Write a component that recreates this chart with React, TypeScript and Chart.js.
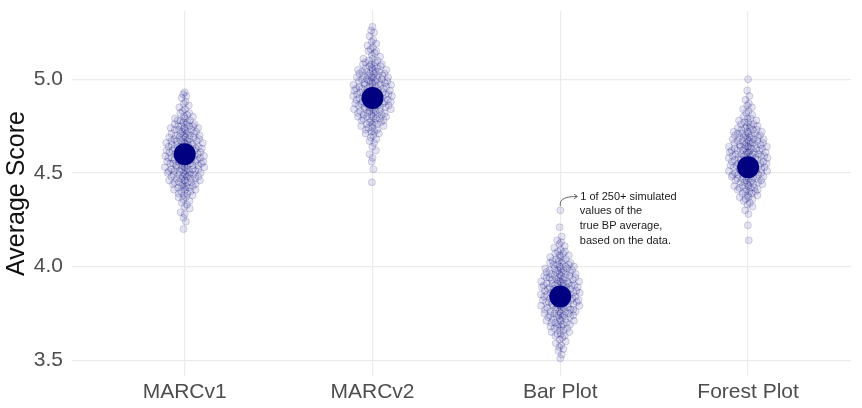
import React, { useEffect, useRef } from "react";
import { Chart, registerables } from "chart.js";

Chart.register(...registerables);

const categories = ["MARCv1", "MARCv2", "Bar Plot", "Forest Plot"];
const yTicks = [3.5, 4.0, 4.5, 5.0];

const marcv1 = [
  4.93, 4.92, 4.91, 4.90, 4.88, 4.87, 4.86, 4.85, 4.84, 4.83, 4.82, 4.82, 4.81, 4.80, 4.80,
  4.79, 4.79, 4.78, 4.78, 4.78, 4.77, 4.77, 4.76, 4.76, 4.76,
  4.75, 4.75, 4.75, 4.75, 4.74, 4.74, 4.74, 4.73, 4.73, 4.73, 4.73, 4.72, 4.72, 4.72,
  4.71, 4.71, 4.71, 4.71, 4.70, 4.70, 4.70, 4.70, 4.69, 4.69, 4.69, 4.69, 4.68, 4.68, 4.68, 4.68,
  4.67, 4.67, 4.67, 4.67, 4.67, 4.66, 4.66, 4.66, 4.66, 4.66, 4.65, 4.65, 4.65, 4.65,
  4.64, 4.64, 4.64, 4.64, 4.64,
  4.63, 4.63, 4.63, 4.63, 4.63, 4.62, 4.62, 4.62, 4.62, 4.62, 4.61, 4.61, 4.61, 4.61, 4.61,
  4.60, 4.60, 4.60, 4.60, 4.60,
  4.59, 4.59, 4.59, 4.59, 4.59, 4.58, 4.58, 4.58, 4.58, 4.58, 4.58, 4.57, 4.57, 4.57, 4.57, 4.57,
  4.56, 4.56, 4.56, 4.56, 4.56,
  4.55, 4.55, 4.55, 4.55, 4.55, 4.54, 4.54, 4.54, 4.54, 4.54, 4.53, 4.53, 4.53, 4.53, 4.53,
  4.52, 4.52, 4.52, 4.52, 4.52,
  4.51, 4.51, 4.51, 4.51, 4.51, 4.50, 4.50, 4.50, 4.50, 4.49, 4.49, 4.49, 4.49, 4.49,
  4.48, 4.48, 4.48, 4.48,
  4.47, 4.47, 4.47, 4.47, 4.46, 4.46, 4.46, 4.46, 4.45, 4.45, 4.45, 4.45, 4.44, 4.44, 4.44,
  4.43, 4.43, 4.43, 4.42, 4.42, 4.42, 4.41, 4.41, 4.41, 4.40, 4.40,
  4.39, 4.39, 4.38, 4.38, 4.37, 4.37, 4.36, 4.35, 4.34, 4.33, 4.32, 4.31, 4.29, 4.28, 4.26,
  4.24, 4.20,
];

const marcv2 = [
  5.28, 5.26, 5.25, 5.23, 5.21, 5.20, 5.19, 5.18, 5.17, 5.16, 5.15, 5.15, 5.14, 5.13, 5.12,
  5.11, 5.11, 5.10, 5.10, 5.09, 5.09, 5.08, 5.08, 5.08,
  5.07, 5.07, 5.07, 5.06, 5.06, 5.06, 5.05, 5.05, 5.05, 5.04, 5.04, 5.04, 5.04,
  5.03, 5.03, 5.03, 5.03, 5.02, 5.02, 5.02, 5.02, 5.01, 5.01, 5.01, 5.01, 5.00, 5.00, 5.00, 5.00,
  4.99, 4.99, 4.99, 4.99, 4.99, 4.98, 4.98, 4.98, 4.98, 4.97, 4.97, 4.97, 4.97, 4.97,
  4.96, 4.96, 4.96, 4.96,
  4.95, 4.95, 4.95, 4.95, 4.95, 4.94, 4.94, 4.94, 4.94, 4.94, 4.93, 4.93, 4.93, 4.93, 4.93,
  4.92, 4.92, 4.92, 4.92, 4.92,
  4.91, 4.91, 4.91, 4.91, 4.91, 4.90, 4.90, 4.90, 4.90, 4.90, 4.89, 4.89, 4.89, 4.89, 4.89,
  4.88, 4.88, 4.88, 4.88, 4.88,
  4.87, 4.87, 4.87, 4.87, 4.87, 4.86, 4.86, 4.86, 4.86, 4.86, 4.85, 4.85, 4.85, 4.85, 4.85,
  4.84, 4.84, 4.84, 4.84,
  4.83, 4.83, 4.83, 4.83, 4.82, 4.82, 4.82, 4.82, 4.81, 4.81, 4.81, 4.81, 4.80, 4.80, 4.80, 4.80,
  4.79, 4.79, 4.79, 4.78, 4.78, 4.78, 4.77, 4.77, 4.77, 4.76, 4.76, 4.76,
  4.75, 4.75, 4.74, 4.74, 4.73, 4.73, 4.72, 4.72,
  4.71, 4.71, 4.70, 4.69, 4.68, 4.67, 4.66, 4.64, 4.62, 4.60, 4.58, 4.56, 4.52, 4.45,
];

const barPlot = [
  4.30, 4.21, 4.16, 4.14, 4.13, 4.12, 4.11, 4.10, 4.09, 4.08, 4.08,
  4.07, 4.07, 4.06, 4.06, 4.05, 4.05, 4.04, 4.04,
  4.03, 4.03, 4.03, 4.02, 4.02, 4.02, 4.01, 4.01, 4.01, 4.00, 4.00, 4.00,
  3.99, 3.99, 3.99, 3.99, 3.98, 3.98, 3.98, 3.98, 3.97, 3.97, 3.97, 3.97, 3.96, 3.96, 3.96, 3.96,
  3.95, 3.95, 3.95, 3.95, 3.94, 3.94, 3.94, 3.94, 3.94, 3.93, 3.93, 3.93, 3.93,
  3.92, 3.92, 3.92, 3.92, 3.92,
  3.91, 3.91, 3.91, 3.91, 3.91, 3.90, 3.90, 3.90, 3.90, 3.90, 3.89, 3.89, 3.89, 3.89, 3.89,
  3.88, 3.88, 3.88, 3.88, 3.88,
  3.87, 3.87, 3.87, 3.87, 3.87, 3.86, 3.86, 3.86, 3.86, 3.86, 3.85, 3.85, 3.85, 3.85, 3.85,
  3.84, 3.84, 3.84, 3.84, 3.84,
  3.83, 3.83, 3.83, 3.83, 3.83, 3.82, 3.82, 3.82, 3.82, 3.82, 3.81, 3.81, 3.81, 3.81, 3.81,
  3.80, 3.80, 3.80, 3.80, 3.80,
  3.79, 3.79, 3.79, 3.79, 3.79, 3.78, 3.78, 3.78, 3.78, 3.77, 3.77, 3.77, 3.77, 3.77,
  3.76, 3.76, 3.76, 3.76,
  3.75, 3.75, 3.75, 3.75, 3.74, 3.74, 3.74, 3.74, 3.73, 3.73, 3.73, 3.73, 3.72, 3.72, 3.72,
  3.71, 3.71, 3.71, 3.70, 3.70, 3.70, 3.69, 3.69, 3.69, 3.68, 3.68, 3.68,
  3.67, 3.67, 3.66, 3.66, 3.65, 3.65, 3.64, 3.64,
  3.63, 3.63, 3.62, 3.61, 3.60, 3.59, 3.58, 3.57, 3.56, 3.55, 3.53, 3.51,
];

const forestPlot = [
  5.00, 4.94, 4.91, 4.89, 4.87, 4.86, 4.85, 4.84, 4.83, 4.82, 4.81, 4.80,
  4.79, 4.79, 4.78, 4.78, 4.77, 4.77, 4.76, 4.76,
  4.75, 4.75, 4.75, 4.74, 4.74, 4.74, 4.73, 4.73, 4.73, 4.72, 4.72, 4.72,
  4.71, 4.71, 4.71, 4.71, 4.70, 4.70, 4.70, 4.70, 4.69, 4.69, 4.69, 4.69, 4.68, 4.68, 4.68, 4.68,
  4.67, 4.67, 4.67, 4.67, 4.66, 4.66, 4.66, 4.66, 4.66, 4.65, 4.65, 4.65, 4.65,
  4.64, 4.64, 4.64, 4.64, 4.64,
  4.63, 4.63, 4.63, 4.63, 4.63, 4.62, 4.62, 4.62, 4.62, 4.62, 4.61, 4.61, 4.61, 4.61, 4.61,
  4.60, 4.60, 4.60, 4.60, 4.60,
  4.59, 4.59, 4.59, 4.59, 4.59, 4.58, 4.58, 4.58, 4.58, 4.58, 4.57, 4.57, 4.57, 4.57, 4.57,
  4.56, 4.56, 4.56, 4.56, 4.56,
  4.55, 4.55, 4.55, 4.55, 4.55, 4.54, 4.54, 4.54, 4.54, 4.54, 4.53, 4.53, 4.53, 4.53, 4.53,
  4.52, 4.52, 4.52, 4.52, 4.52,
  4.51, 4.51, 4.51, 4.51, 4.51, 4.50, 4.50, 4.50, 4.50, 4.49, 4.49, 4.49, 4.49, 4.49,
  4.48, 4.48, 4.48, 4.48,
  4.47, 4.47, 4.47, 4.47, 4.46, 4.46, 4.46, 4.46, 4.45, 4.45, 4.45, 4.45, 4.44, 4.44, 4.44,
  4.43, 4.43, 4.43, 4.42, 4.42, 4.42, 4.41, 4.41, 4.41, 4.40, 4.40, 4.40,
  4.39, 4.39, 4.38, 4.38, 4.37, 4.37, 4.36, 4.36,
  4.35, 4.34, 4.33, 4.32, 4.30, 4.28, 4.22, 4.14,
];

const seriesValues = [marcv1, marcv2, barPlot, forestPlot];
const means = [4.6, 4.9, 3.84, 4.53];

const noteLines = ["1 of 250+ simulated", "values of the", "true BP average,", "based on the data."];
const noteAnchor = { x: 3, y: 4.3 };
const noteText = { x: 3.104, y: 4.374 };

const FONT = "'Liberation Sans', Arial, Helvetica, sans-serif";

function vdc(n: number): number {
  let v = 0;
  let denom = 1;
  while (n > 0) {
    denom *= 2;
    v += (n % 2) / denom;
    n = Math.floor(n / 2);
  }
  return v;
}

// quasirandom (beeswarm-like) horizontal layout driven by local density
function swarm(values: number[], center: number, halfWidth: number, bw: number) {
  const dens = values.map((v) =>
    values.reduce((s, u) => s + Math.exp(-0.5 * ((v - u) / bw) ** 2), 0)
  );
  const mx = Math.max(...dens);
  return values.map((v, i) => {
    const t = 2 * vdc(i + 1) - 1;
    const shaped = Math.sign(t) * Math.pow(Math.abs(t), 1.3);
    return { x: center + halfWidth * Math.pow(dens[i] / mx, 0.8) * shaped, y: v };
  });
}

const notePlugin = {
  id: "noteAnnotation",
  afterDatasetsDraw(chart: any) {
    const { ctx, scales } = chart;
    const xs = scales.x;
    const ys = scales.y;
    const px = xs.getPixelForValue(noteAnchor.x);
    const py = ys.getPixelForValue(noteAnchor.y) - 4.5;
    const tx = xs.getPixelForValue(noteText.x);
    const ty = ys.getPixelForValue(noteText.y);
    const ex = tx - 2.5;
    ctx.save();
    ctx.strokeStyle = "#555555";
    ctx.lineWidth = 0.9;
    ctx.beginPath();
    ctx.moveTo(px, py);
    ctx.bezierCurveTo(px - 1, ty + 2, px + 6, ty, ex, ty);
    ctx.stroke();
    ctx.beginPath();
    ctx.moveTo(ex - 3.5, ty - 2.5);
    ctx.lineTo(ex, ty);
    ctx.lineTo(ex - 3.5, ty + 2.5);
    ctx.stroke();
    ctx.fillStyle = "#1a1a1a";
    ctx.font = `11px ${FONT}`;
    ctx.textBaseline = "middle";
    ctx.textAlign = "left";
    noteLines.forEach((line, i) => {
      ctx.fillText(line, tx + (i === 0 ? 0.5 : 0), ty + i * 14.7);
    });
    ctx.restore();
  },
};

export default function App() {
  const ref = useRef<HTMLCanvasElement | null>(null);

  useEffect(() => {
    if (!ref.current) return;
    const halfWidth = 0.11;
    const swarmSets = seriesValues.map((vals, i) => ({
      label: categories[i],
      data: swarm(vals, i + 1, halfWidth, 0.04),
      pointRadius: 3.5,
      pointHoverRadius: 3.5,
      backgroundColor: "rgba(0,0,128,0.1)",
      borderColor: "rgba(0,0,128,0.16)",
      borderWidth: 1,
      order: 1,
    }));
    const meanSet = {
      label: "Mean",
      data: means.map((m, i) => ({ x: i + 1, y: m })),
      pointRadius: 11,
      pointHoverRadius: 11,
      backgroundColor: "#000080",
      borderColor: "#000080",
      borderWidth: 0,
      order: 0,
    };

    const chart = new Chart(ref.current, {
      type: "scatter",
      data: { datasets: [...swarmSets, meanSet] as any },
      options: {
        animation: false,
        responsive: false,
        events: [],
        layout: { padding: { top: 7, left: 0, right: 0, bottom: 0 } },
        plugins: {
          legend: { display: false },
          tooltip: { enabled: false },
        },
        scales: {
          x: {
            type: "linear",
            min: 0.4,
            max: 4.548,
            afterBuildTicks: (s: any) => {
              s.ticks = categories.map((_, i) => ({ value: i + 1 }));
            },
            afterFit: (s: any) => {
              s.height = 32;
              s.paddingLeft = 0;
              s.paddingRight = 0;
            },
            ticks: {
              autoSkip: false,
              maxRotation: 0,
              padding: 4,
              color: "#4d4d4d",
              font: { size: 21, family: FONT },
              callback: (v: any) => categories[Math.round(Number(v)) - 1] ?? "",
            },
            grid: { color: "#ebebeb", lineWidth: 1.2, drawTicks: false },
            border: { display: false },
          },
          y: {
            type: "linear",
            min: 3.4155,
            max: 5.3644,
            afterBuildTicks: (s: any) => {
              s.ticks = yTicks.map((v) => ({ value: v }));
            },
            afterFit: (s: any) => {
              s.width = 72;
              s.paddingTop = 0;
              s.paddingBottom = 0;
            },
            ticks: {
              autoSkip: false,
              padding: 9,
              color: "#4d4d4d",
              font: { size: 21, family: FONT, lineHeight: 0.6 },
              callback: (v: any) => Number(v).toFixed(1),
            },
            title: {
              display: true,
              text: "Average Score",
              color: "#111111",
              font: { size: 25, family: FONT },
              padding: { top: 2, bottom: 0 },
            },
            grid: { color: "#ebebeb", lineWidth: 1.2, drawTicks: false },
            border: { display: false },
          },
        },
      },
      plugins: [notePlugin],
    });
    return () => chart.destroy();
  }, []);

  return (
    <div style={{ position: "absolute", left: 0, top: 0, width: 862, height: 408, background: "#fff" }}>
      <canvas ref={ref} width={862} height={408} style={{ display: "block" }} />
    </div>
  );
}
